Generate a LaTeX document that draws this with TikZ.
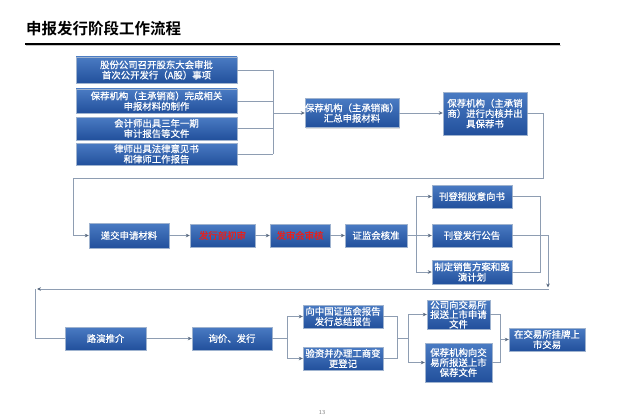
\documentclass[tikz,border=0pt]{standalone}
\usepackage{fontspec}
\newfontfamily\cjk[FakeBold=0.7]{Noto Sans CJK SC}
\newfontfamily\cjkb{Noto Sans CJK SC Bold}
\usetikzlibrary{arrows.meta,shadows}
\definecolor{boxtop}{HTML}{4A7BC3}
\definecolor{boxbot}{HTML}{22509C}
\definecolor{boxedge}{HTML}{9FB3CF}
\definecolor{linec}{HTML}{8E9DB2}
\definecolor{arrc}{HTML}{5A6A80}
\definecolor{redt}{HTML}{E8201C}
\begin{document}
\begin{tikzpicture}[x=1pt,y=-1pt,
  box/.style={draw=boxedge, line width=0.4pt, top color=boxtop, bottom color=boxbot,
    text=white, align=center, inner sep=0pt,
    font=\cjk\fontsize{9.4}{10.3}\selectfont,
    drop shadow={opacity=0.25,shadow xshift=1pt,shadow yshift=-1.2pt}},
  conn/.style={draw=linec, line width=0.9pt},
  arr/.style={conn, -{Stealth[length=4pt,width=3.6pt,color=arrc]}},
  redbox/.style={box, text=redt}
]
\useasboundingbox (0,0) rectangle (640,420);

% title
\node[anchor=west, inner sep=0pt, font=\cjkb\fontsize{15.5}{16}\selectfont] (title) at (26,29) {申报发行阶段工作流程};
\draw[gray!45, line width=1pt] (26,45.6) -- (561,45.6);
\draw[black, line width=1.8pt] (25,44) -- (560,44);

% row 1
\node[box, minimum width=161pt, minimum height=26pt] (b1) at (156.5,70) {股份公司召开股东大会审批\\首次公开发行（A股）事项};
\node[box, minimum width=161pt, minimum height=24pt] (b2) at (156.5,101) {保荐机构（主承销商）完成相关\\申报材料的制作};
\node[box, minimum width=161pt, minimum height=23pt] (b3) at (156.5,128.5) {会计师出具三年一期\\审计报告等文件};
\node[box, minimum width=161pt, minimum height=22pt] (b4) at (156.5,154) {律师出具法律意见书\\和律师工作报告};
\node[box, minimum width=90pt, minimum height=29pt] (b5) at (352,113) {保荐机构（主承销商）\\汇总申报材料};
\node[box, minimum width=84pt, minimum height=43pt] (b6) at (485,113.5) {保荐机构（主承销\\商）进行内核并出\\具保荐书};

% row 2
\node[box, minimum width=80pt, minimum height=25pt] (b7) at (129,235.5) {递交申请材料};
\node[redbox, minimum width=65pt, minimum height=23pt] (b8) at (222.5,235.5) {发行部初审};
\node[redbox, minimum width=60pt, minimum height=23pt] (b9) at (300,235.5) {发审会审核};
\node[box, minimum width=62pt, minimum height=23pt] (b10) at (376,235.5) {证监会核准};
\node[box, minimum width=80pt, minimum height=23pt] (b11) at (472,196.5) {刊登招股意向书};
\node[box, minimum width=80pt, minimum height=23pt] (b12) at (472,235.5) {刊登发行公告};
\node[box, minimum width=80pt, minimum height=24pt] (b13) at (472,272) {制定销售方案和路\\演计划};

% row 3
\node[box, minimum width=81pt, minimum height=23pt] (b14) at (105.5,338.5) {路演推介};
\node[box, minimum width=80pt, minimum height=23pt] (b15) at (232,338.5) {询价、发行};
\node[box, minimum width=80pt, minimum height=23pt] (b16) at (343,316.5) {向中国证监会报告\\发行总结报告};
\node[box, minimum width=80pt, minimum height=23pt] (b17) at (343,358.5) {验资并办理工商变\\更登记};
\node[box, minimum width=63pt, minimum height=29pt, font=\cjk\fontsize{9.4}{9.6}\selectfont] (b18) at (458.5,314.5) {公司向交易所\\报送上市申请\\文件};
\node[box, minimum width=67pt, minimum height=39pt, font=\cjk\fontsize{9.4}{10}\selectfont] (b19) at (458.5,362.5) {保荐机构向交\\易所报送上市\\保荐文件};
\node[box, minimum width=76pt, minimum height=23pt] (b20) at (547,339.5) {在交易所挂牌上\\市交易};

% page number
\node[font=\sffamily\fontsize{6}{6}\selectfont, text=gray] (pg) at (322,413) {13};

% bus coordinates
\coordinate (busA) at (273,0);
\coordinate (r1) at (543,178);
\coordinate (r2) at (73,178);
\coordinate (busB) at (416,0);
\coordinate (busC) at (540,0);
\coordinate (d1) at (548,287.5);
\coordinate (d2) at (549,289);
\coordinate (d3) at (37,289);
\coordinate (d4) at (35,289);
\coordinate (busD) at (287,0);
\coordinate (busE) at (397,0);
\coordinate (busF) at (408,0);
\coordinate (busG) at (500,0);

% row 1 connectors
\foreach \b in {b1,b2,b3,b4} \draw[conn] (\b.east) -- (\b.east -| busA);
\draw[conn] (b1.east -| busA) -- (b4.east -| busA);
\draw[arr] (busA |- b5.west) -- (b5.west);
\draw[arr] (b5.east) -- (b5.east -| b6.west);
\draw[arr] (b6.east) -| (r1) -- (r2) |- (b7.west);

% row 2 connectors
\draw[arr] (b7.east) -- (b8.west);
\draw[arr] (b8.east) -- (b9.west);
\draw[arr] (b9.east) -- (b10.west);
\draw[conn] (b10.east) -- (b10.east -| busB);
\draw[conn] (busB |- b11.west) -- (busB |- b13.west);
\draw[arr] (busB |- b11.west) -- (b11.west);
\draw[arr] (busB |- b12.west) -- (b12.west);
\draw[arr] (busB |- b13.west) -- (b13.west);
\draw[conn] (b11.east) -| (busC |- b13.east) -- (b13.east);
\draw[arr] (b12.east) -| (d1);
\draw[arr] (d2) -- (d3);
\draw[conn] (d4) |- (b14.west);

% row 3 connectors
\draw[arr] (b14.east) -- (b15.west);
\draw[conn] (b15.east) -- (b15.east -| busD);
\draw[conn] (busD |- b16.west) -- (busD |- b17.west);
\draw[arr] (busD |- b16.west) -- (b16.west);
\draw[arr] (busD |- b17.west) -- (b17.west);
\draw[conn] (b16.east) -| (busE |- b17.east) -- (b17.east);
\draw[conn] (busE |- b15.east) -- (busF |- b15.east);
\draw[conn] (busF |- b18.west) -- (busF |- b19.west);
\draw[arr] (busF |- b18.west) -- (b18.west);
\draw[arr] (busF |- b19.west) -- (b19.west);
\draw[conn] (b18.east) -| (busG |- b19.east) -- (b19.east);
\draw[arr] (busG |- b20.west) -- (b20.west);
\end{tikzpicture}
\end{document}
